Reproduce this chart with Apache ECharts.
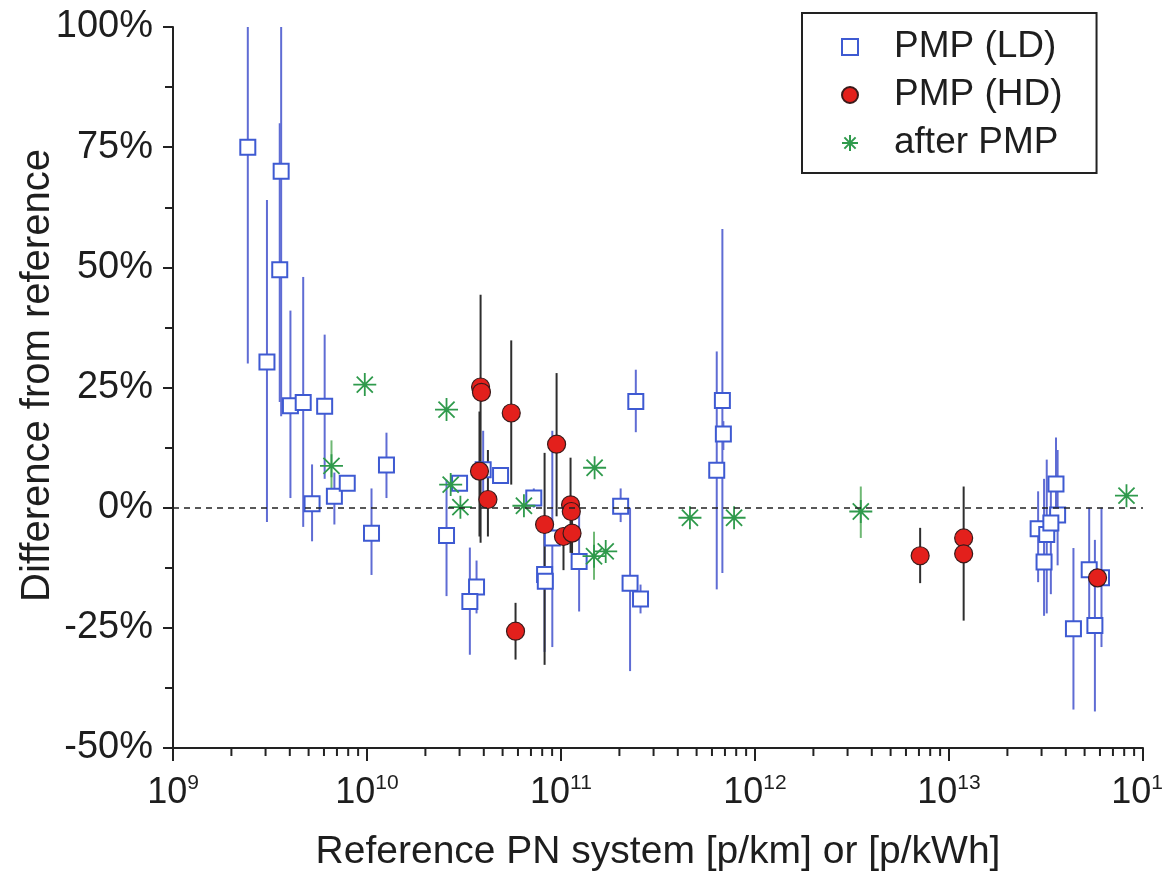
<!DOCTYPE html>
<html><head><meta charset="utf-8">
<script src="https://cdn.jsdelivr.net/npm/echarts@6/dist/echarts.min.js"></script>
<style>html,body{margin:0;padding:0;background:#fff}#c{width:1162px;height:875px}</style>
</head><body><div id="c"></div>
<script>
// ---- data ----
const ldX  = [2.43e9, 3.61e9, 3.55e9, 3.05e9, 4.03e9, 4.69e9, 6.05e9, 5.21e9, 6.79e9, 7.91e9, 1.26e10, 1.055e10, 2.57e10, 3.0e10, 3.67e10, 3.39e10, 4.88e10, 3.97e10, 7.24e10, 8.23e10, 8.3e10, 9.02e10, 1.24e11, 2.43e11, 2.03e11, 2.27e11, 2.57e11, 6.79e11, 6.87e11, 6.35e11, 3.56e13, 2.88e13, 3.19e13, 3.09e13, 3.63e13, 3.35e13, 4.38e13, 5.28e13, 5.65e13, 6.11e13];
const ldY  = [75, 70, 49.5, 30.3, 21.2, 21.9, 21.1, 0.8, 2.4, 5.1, 8.9, -5.3, -5.8, 5.1, -16.5, -19.5, 6.7, 7.9, 2, -13.9, -15.3, -6.3, -11.2, 22.1, 0.3, -15.7, -19, 22.3, 15.3, 7.8, 4.9, -4.4, -5.6, -11.3, -1.5, -3.2, -25.2, -12.9, -24.5, -14.6];
const ldLo = [30, 19, 22, -3, 2, -4, 6, -7, -3.5, 5.1, 2, -14, -18.4, 5.1, -22, -30.6, 6.7, 0, 0, -30, -15.3, -29, -21.6, 15.7, -3, -34, -22, -13.6, 12, -17, -5, -15.5, -22, -22.5, -12, -18, -42, -25, -42.4, -29];
const ldHi = [100, 100, 80, 64, 41, 48, 36, 9, 7.3, 5.1, 15.6, 4, 5.8, 5.1, -11, -8.3, 6.7, 16, 4, -2, -15.3, 16, -1, 28.7, 4, 0, -16, 58, 18, 32.5, 14.6, 3.4, 10, 6, 12, 6, -8.4, 0, -6.7, 0];

const hdX  = [3.85e10, 3.89e10, 3.80e10, 4.20e10, 5.54e10, 9.49e10, 8.23e10, 1.12e11, 1.03e11, 1.14e11, 1.13e11, 5.83e10, 7.1e12, 1.19e13, 1.19e13, 5.83e13];
const hdY  = [25.1, 24, 7.6, 1.7, 19.7, 13.2, -3.5, 0.6, -6, -5.3, -0.8, -25.7, -10, -6.3, -9.6, -14.6];
const hdLo = [-7.3, 24, -6, -6, 4.8, -1.8, -32.7, -9.4, -13, -12, -0.8, -31.6, -15.7, -23.5, -9.6, -14.6];
const hdHi = [44.3, 24, 20, 12, 34.8, 28, 11.4, 10.4, -6, 2, -0.8, -19.8, -4.2, 4.4, -9.6, -14.6];

const apX  = [9.74e9, 2.57e10, 6.56e9, 2.70e10, 3.03e10, 6.44e10, 1.49e11, 1.48e11, 1.70e11, 4.62e11, 7.8e11, 3.51e12, 8.22e13];
const apY  = [25.6, 20.4, 8.7, 4.8, 0.1, 0.4, 8.3, -10.1, -9.1, -2.1, -2.1, -0.8, 2.5];
const apLo = [25.6, 20.4, 3.7, 4.8, 0.1, 0.4, 8.3, -15, -9.1, -2.1, -2.1, -6.3, 2.5];
const apHi = [25.6, 20.4, 14, 4.8, 0.1, 0.4, 8.3, -5, -9.1, -2.1, -2.1, 4.4, 2.5];

const seriesNames = ['PMP (LD)', 'PMP (HD)', 'after PMP'];
const xTickDecades = [1e9, 1e10, 1e11, 1e12, 1e13];
const minorMultipliers = [2, 3, 4, 5, 6, 7, 8, 9];
const yMin = -50, yMax = 100, yStep = 25;
const xMin = 1e9, xMax = 1e14;

// ---- build ----
const FONT = '"Liberation Sans", Arial, Helvetica, sans-serif';
const TXT = '#1e1e1e';
const STAR = 'path://M10,0L10,20M0,10L20,10M3,3L17,17M3,17L17,3';
const SQUARE = 'path://M0,0L10,0L10,10L0,10Z';

function pts(xs, ys){ return xs.map((x,i)=>[x, ys[i]]); }
function bars(xs, lo, hi){ const out=[]; xs.forEach((x,i)=>{ if(lo[i]!==hi[i]) out.push([x, lo[i], hi[i]]); }); return out; }
function errSeries(id, data, color, w){
  return {type:'custom', name:id, data, clip:false, silent:true,
    encode:{x:0, y:[1,2]},
    renderItem(params, api){
      const a = api.coord([api.value(0), api.value(2)]);
      const b = api.coord([api.value(0), api.value(1)]);
      return {type:'line', shape:{x1:a[0], y1:a[1], x2:b[0], y2:b[1]}, style:{stroke:color, lineWidth:w}};
    }};
}
const minorVals = [];
xTickDecades.forEach(d => minorMultipliers.forEach(m => minorVals.push([d*m, yMin])));

const chart = echarts.init(document.getElementById('c'), null, {renderer:'canvas'});
chart.setOption({
  animation:false,
  backgroundColor:'#fff',
  grid:{left:173, right:19, top:27, bottom:127, containLabel:false, outerBoundsMode:'none'},
  legend:{
    data:[
      {name:seriesNames[0], icon:SQUARE},
      {name:seriesNames[1], icon:'circle'},
      {name:seriesNames[2], icon:STAR}
    ],
    orient:'vertical', left:802, top:13,
    itemWidth:78, itemHeight:16, itemGap:8,
    padding:[14, 34, 10, 39],
    borderColor:'#222', borderWidth:2, borderRadius:0,
    selectedMode:false,
    textStyle:{fontFamily:FONT, fontSize:37, color:TXT, lineHeight:40}
  },
  xAxis:{
    type:'log', logBase:10, min:xMin, max:xMax,
    axisLine:{onZero:false, lineStyle:{color:'#222', width:2}},
    axisTick:{length:13, lineStyle:{color:'#222', width:2}},
    splitLine:{show:false},
    axisLabel:{
      margin:25, showMinLabel:true, showMaxLabel:true, hideOverlap:false,
      formatter:v => '{b|10}{s|' + Math.round(Math.log10(v)) + '}',
      rich:{
        b:{fontFamily:FONT, fontSize:36, color:TXT, lineHeight:40},
        s:{fontFamily:FONT, fontSize:21, color:TXT, lineHeight:16, verticalAlign:'top'}
      }
    },
    name:'Reference PN system [p/km] or [p/kWh]',
    nameLocation:'middle', nameGap:85, nameMoveOverlap:false,
    nameTextStyle:{fontFamily:FONT, fontSize:39, color:TXT}
  },
  yAxis:{
    type:'value', min:yMin, max:yMax, interval:yStep,
    axisLine:{show:true, lineStyle:{color:'#222', width:2}},
    axisTick:{show:true, length:10, lineStyle:{color:'#222', width:2}},
    minorTick:{show:true, splitNumber:2, length:8, lineStyle:{color:'#222', width:2}},
    splitLine:{show:false},
    axisLabel:{formatter:'{value}%', fontFamily:FONT, fontSize:38, color:TXT, margin:20},
    name:'Difference from reference',
    nameLocation:'middle', nameGap:115, nameMoveOverlap:false,
    nameTextStyle:{fontFamily:FONT, fontSize:40, color:TXT, padding:[0,0,0,24]}
  },
  series:[
    {type:'custom', name:'minor-x', data:minorVals, clip:false, silent:true, encode:{x:0, y:1},
      renderItem(params, api){
        const c = api.coord([api.value(0), api.value(1)]);
        return {type:'line', shape:{x1:c[0], y1:c[1], x2:c[0], y2:c[1]+8}, style:{stroke:'#222', lineWidth:2}};
      }},
    errSeries('ld-err', bars(ldX, ldLo, ldHi), '#5f6cd4', 2),
    {type:'scatter', name:seriesNames[0], data:pts(ldX, ldY), symbol:SQUARE, symbolSize:15,
      itemStyle:{color:'#ffffff', borderColor:'#3e5ad2', borderWidth:2, opacity:1},
      markLine:{silent:true, symbol:['none','none'], label:{show:false},
        lineStyle:{color:'#222', type:[6,5], width:1.6},
        data:[{yAxis:0}]}},
    errSeries('hd-err', bars(hdX, hdLo, hdHi), '#2e2e2e', 2),
    {type:'scatter', name:seriesNames[1], data:pts(hdX, hdY), symbol:'circle', symbolSize:18,
      itemStyle:{color:'#e3201c', borderColor:'#3a1a1a', borderWidth:1.2, opacity:1}},
    errSeries('ap-err', bars(apX, apLo, apHi), '#6fb874', 2),
    {type:'scatter', name:seriesNames[2], data:pts(apX, apY), symbol:STAR, symbolSize:23,
      itemStyle:{color:'rgba(0,0,0,0)', borderColor:'#2f9a4c', borderWidth:1.8, opacity:1}}
  ]
});
</script></body></html>
